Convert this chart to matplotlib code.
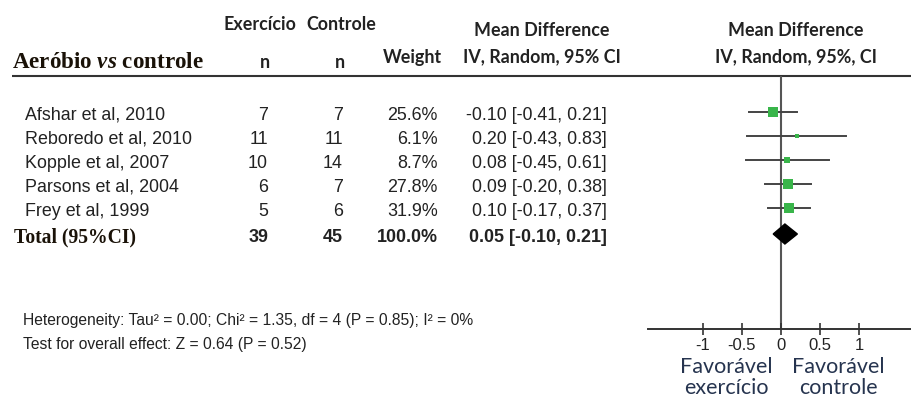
import matplotlib
matplotlib.use("Agg")
import matplotlib.pyplot as plt
from matplotlib.patches import Polygon

plt.rcParams["mathtext.fontset"] = "custom"
plt.rcParams["mathtext.bfit"] = "Liberation Serif:italic:bold"

# data
studies = ["Afshar et al, 2010", "Reboredo et al, 2010", "Kopple et al, 2007",
           "Parsons et al, 2004", "Frey et al, 1999"]
n_exerc = [7, 11, 10, 6, 5]
n_ctrl = [7, 11, 14, 7, 6]
weights = [25.6, 6.1, 8.7, 27.8, 31.9]
md = [-0.10, 0.20, 0.08, 0.09, 0.10]
ci_lo = [-0.41, -0.43, -0.45, -0.20, -0.17]
ci_hi = [0.21, 0.83, 0.61, 0.38, 0.37]

total_n_exerc = 39
total_n_ctrl = 45
total_weight = 100.0
total_md = 0.05
total_lo = -0.10
total_hi = 0.21

tick_vals = [-1, -0.5, 0, 0.5, 1]
tick_labels = ["-1", "-0.5", "0", "0.5", "1"]

heterogeneity = "Heterogeneity: Tau\u00b2 = 0.00; Chi\u00b2 = 1.35, df = 4 (P = 0.85); I\u00b2 = 0%"
overall = "Test for overall effect: Z = 0.64 (P = 0.52)"

W, H = 912, 398
fig = plt.figure(figsize=(W / 100, H / 100), dpi=100)

# overlay in pixel coordinates for the table part
ax = fig.add_axes([0, 0, 1, 1])
ax.set_xlim(0, W)
ax.set_ylim(H, 0)
ax.axis("off")

hdr = dict(family="Lato", weight="bold", fontsize=12.9, color="#222222")
txt = dict(family="Liberation Sans", fontsize=12.9, color="#222222")
bold_sans = dict(family="Liberation Sans", weight="bold", fontsize=12.9, color="#222222")
serif_b = dict(family="Liberation Serif", weight="bold", color="#1a1208")

ax.text(260, 25, "Exercício", ha="center", va="center", **hdr)
ax.text(341, 25, "Controle", ha="center", va="center", **hdr)
ax.text(542, 30, "Mean Difference", ha="center", va="center", **hdr)
ax.text(796, 30, "Mean Difference", ha="center", va="center", **hdr)
ax.text(265, 62, "n", ha="center", va="center", **hdr)
ax.text(340, 62, "n", ha="center", va="center", **hdr)
ax.text(412, 57, "Weight", ha="center", va="center", **hdr)
ax.text(542, 57, "IV, Random, 95% CI", ha="center", va="center", **hdr)
ax.text(796, 57, "IV, Random, 95%, CI", ha="center", va="center", **hdr)
ax.text(12, 62, "Aeróbio $\\mathbfit{vs}$ controle",
        ha="left", va="center", fontsize=16.6, **serif_b)

ax.plot([12, W], [76, 76], color="#333333", lw=1.5, solid_capstyle="butt")

row_px = [112, 136, 160, 184, 208]
total_px = 234
for i, name in enumerate(studies):
    y = row_px[i] + 3.5
    ax.text(25, y, name, ha="left", va="center", **txt)
    ax.text(268, y, str(n_exerc[i]), ha="right", va="center", **txt)
    ax.text(343, y, str(n_ctrl[i]), ha="right", va="center", **txt)
    ax.text(438, y, f"{weights[i]:.1f}%", ha="right", va="center", **txt)
    ax.text(607, y, f"{md[i]:.2f} [{ci_lo[i]:.2f}, {ci_hi[i]:.2f}]",
            ha="right", va="center", **txt)

yt = total_px + 3
ax.text(14, yt, "Total (95%CI)", ha="left", va="center", fontsize=14.1, **serif_b)
ax.text(268, yt, str(total_n_exerc), ha="right", va="center", **bold_sans)
ax.text(343, yt, str(total_n_ctrl), ha="right", va="center", **bold_sans)
ax.text(438, yt, f"{total_weight:.1f}%", ha="right", va="center", **bold_sans)
ax.text(607, yt, f"{total_md:.2f} [{total_lo:.2f}, {total_hi:.2f}]",
        ha="right", va="center", **bold_sans)

foot = dict(family="Liberation Sans", fontsize=11.25, color="#222222")
ax.text(23, 320, heterogeneity, ha="left", va="center", **foot)
ax.text(23, 345, overall, ha="left", va="center", **foot)

# forest plot axes: zero at x=781 px, 78 px per unit
x0_px, unit = 781, 78
left_px, right_px, top_px, bot_px = 648, W, 76, 329
fx = fig.add_axes([left_px / W, (H - bot_px) / H,
                   (right_px - left_px) / W, (bot_px - top_px) / H])
fx.patch.set_alpha(0)
fx.set_xlim((left_px - x0_px) / unit, (right_px - x0_px) / unit)
fx.set_ylim(bot_px, top_px)
for s in ["top", "right", "left"]:
    fx.spines[s].set_visible(False)
fx.spines["bottom"].set_color("#333333")
fx.spines["bottom"].set_linewidth(1.4)
fx.set_yticks([])
fx.set_xticks(tick_vals)
fx.set_xticklabels(tick_labels, family="Liberation Sans", fontsize=12, color="#222222")
fx.tick_params(axis="x", direction="inout", length=9, width=1.2, color="#333333", pad=2)

fx.axvline(0, color="#555555", lw=1.5, zorder=1)

green = "#39b54a"
for i in range(len(studies)):
    y = row_px[i]
    fx.plot([ci_lo[i], ci_hi[i]], [y, y], color="#444444", lw=1.4, zorder=2)
    side_pt = 1.8 * weights[i] ** 0.5 / 1.389
    fx.plot([md[i]], [y], marker="s", ms=side_pt, color=green, mec=green,
            mew=0, zorder=3)

hh = 10
diamond = Polygon([[total_lo, total_px], [total_md, total_px - hh],
                   [total_hi, total_px], [total_md, total_px + hh]],
                  closed=True, facecolor="black", edgecolor="black", zorder=3)
fx.add_patch(diamond)

fav = dict(family="Lato", fontsize=15.5, color="#26344f", ha="center")
ax.text(726, 367, "Favorável", va="center", **fav)
ax.text(838, 367, "Favorável", va="center", **fav)
ax.text(726, 398, "exercício", va="bottom", **fav)
ax.text(838, 398, "controle", va="bottom", **fav)

fig.savefig("out.png", dpi=100)
